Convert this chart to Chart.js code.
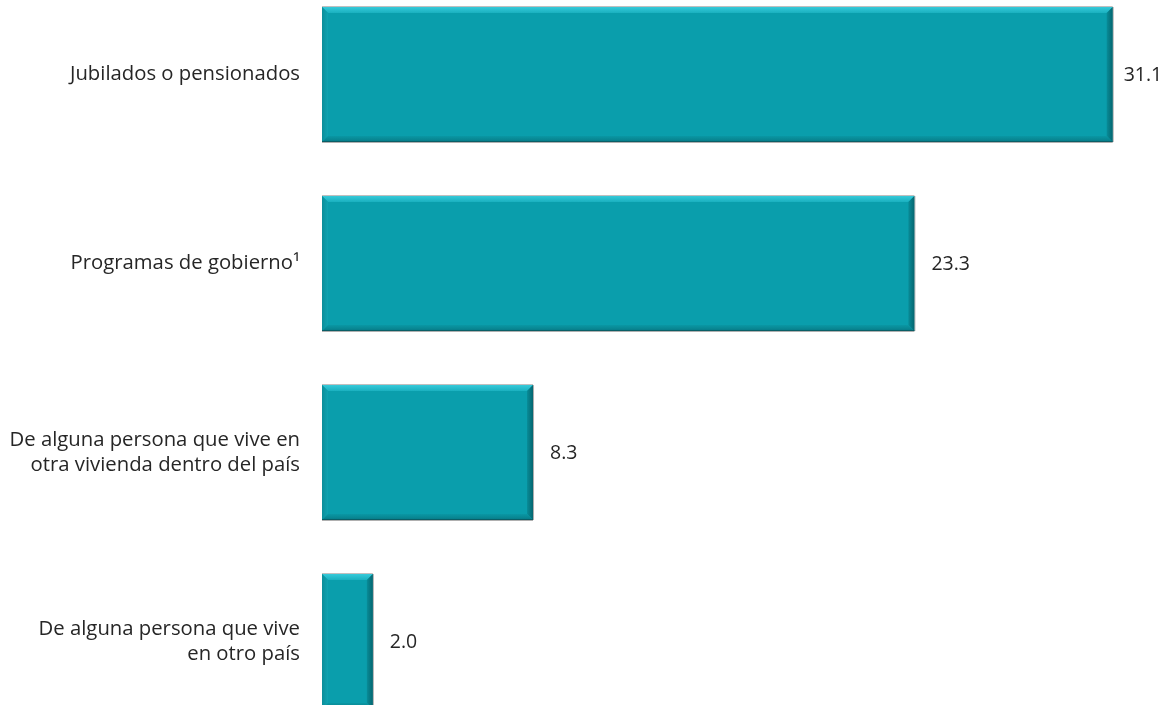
<!DOCTYPE html>
<html>
<head>
<meta charset="utf-8">
<script src="https://cdn.jsdelivr.net/npm/chart.js@4.4.1/dist/chart.umd.min.js"></script>
<style>
html,body{margin:0;padding:0;background:#fff;overflow:hidden;width:1168px;height:705px;}
#wrap{position:absolute;left:0;top:-20px;width:1168px;height:756px;}
</style>
</head>
<body>
<div id="wrap"><canvas id="c"></canvas></div>
<script>
const categories = [
  "Jubilados o pensionados",
  "Programas de gobierno\u00B9",
  ["De alguna persona que vive en", "otra vivienda dentro del país"],
  ["De alguna persona que vive", "en otro país"]
];
const values = [31.1, 23.3, 8.3, 2.0];
const valueLabels = ["31.1", "23.3", "8.3", "2.0"];

const bevel = {
  id: 'bevel',
  afterDatasetsDraw(chart) {
    const ctx = chart.ctx;
    const meta = chart.getDatasetMeta(0);
    meta.data.forEach((el) => {
      const p = el.getProps(['x','y','base','height'], true);
      const L = Math.min(p.base, p.x), R = Math.max(p.base, p.x);
      const T = p.y - p.height/2, B = p.y + p.height/2;
      const b = 6;
      ctx.save();
      let g = ctx.createLinearGradient(0, T, 0, T + b);
      g.addColorStop(0, '#35CADA'); g.addColorStop(1, '#1AB0BF');
      ctx.fillStyle = g;
      ctx.beginPath(); ctx.moveTo(L, T); ctx.lineTo(R, T); ctx.lineTo(R - b, T + b); ctx.lineTo(L + b, T + b); ctx.closePath(); ctx.fill();
      g = ctx.createLinearGradient(L, 0, L + b, 0);
      g.addColorStop(0, '#0C8E9A'); g.addColorStop(1, '#0FA3B1');
      ctx.fillStyle = g;
      ctx.beginPath(); ctx.moveTo(L, T); ctx.lineTo(L + b, T + b); ctx.lineTo(L + b, B - b); ctx.lineTo(L, B); ctx.closePath(); ctx.fill();
      g = ctx.createLinearGradient(R - b, 0, R, 0);
      g.addColorStop(0, '#088C98'); g.addColorStop(1, '#056670');
      ctx.fillStyle = g;
      ctx.beginPath(); ctx.moveTo(R, T); ctx.lineTo(R, B); ctx.lineTo(R - b, B - b); ctx.lineTo(R - b, T + b); ctx.closePath(); ctx.fill();
      g = ctx.createLinearGradient(0, B - b, 0, B);
      g.addColorStop(0, '#0A97A4'); g.addColorStop(1, '#077C87');
      ctx.fillStyle = g;
      ctx.beginPath(); ctx.moveTo(L, B); ctx.lineTo(R, B); ctx.lineTo(R - b, B - b); ctx.lineTo(L + b, B - b); ctx.closePath(); ctx.fill();
      ctx.fillStyle = '#BEBEBE';
      ctx.fillRect(L, T - 1, R - L, 1);
      ctx.fillStyle = '#0A5E66';
      ctx.fillRect(L, B - 1, R - L, 1);
      ctx.fillStyle = 'rgba(120,120,120,0.6)';
      ctx.fillRect(L, B, R - L, 1);
      ctx.fillRect(R, T, 1, B - T);
      ctx.restore();
    });
  },
  afterDraw(chart) {
    const ctx = chart.ctx;
    const meta = chart.getDatasetMeta(0);
    ctx.save();
    ctx.font = '19.5px "Open Sans"';
    ctx.fillStyle = '#262626';
    ctx.textAlign = 'left';
    ctx.textBaseline = 'middle';
    meta.data.forEach((el, i) => {
      const p = el.getProps(['x','y'], true);
      const dx = i === 0 ? 11 : 17;
      ctx.fillText(valueLabels[i], p.x + dx, p.y + 1);
    });
    ctx.restore();
  }
};

new Chart(document.getElementById('c'), {
  type: 'bar',
  data: {
    labels: categories,
    datasets: [{
      data: values,
      backgroundColor: '#0A9EAC',
      borderWidth: 0,
      categoryPercentage: 1,
      barPercentage: 0.714
    }]
  },
  options: {
    indexAxis: 'y',
    responsive: true,
    maintainAspectRatio: false,
    animation: false,
    layout: { padding: { left: 0, right: 7, top: 0, bottom: 0 } },
    plugins: { legend: { display: false }, tooltip: { enabled: false } },
    scales: {
      x: { display: false, min: 0, max: 33 },
      y: {
        grid: { display: false, drawTicks: false },
        border: { display: false },
        ticks: {
          color: '#262626',
          padding: 22,
          font: { family: '"Open Sans"', size: 20.3, lineHeight: 1.22 }
        },
        afterFit(scale) { scale.width = 322; scale.paddingTop = 0; scale.paddingBottom = 0; }
      }
    }
  },
  plugins: [bevel]
});
</script>
</body>
</html>
